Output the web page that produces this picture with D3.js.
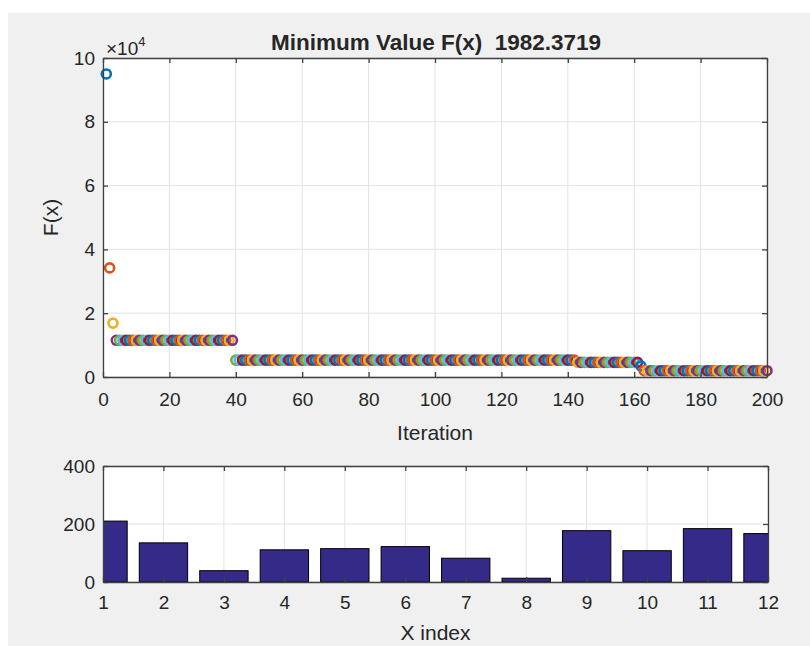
<!DOCTYPE html>
<html>
<head>
<meta charset="utf-8">
<script src="https://cdn.jsdelivr.net/npm/d3@7"></script>
<style>
  body { margin: 0; background: #fff; }
  svg text { font-family: "Liberation Sans", Arial, sans-serif; fill: #262626; }
</style>
</head>
<body>
<div id="chart"></div>
<script>
// best F(x) at each iteration
const fxValues = [
  95000, 34200, 16900, 11500, 11500, 11500, 11500, 11500, 11500, 11500,
  11500, 11500, 11500, 11500, 11500, 11500, 11500, 11500, 11500, 11500,
  11500, 11500, 11500, 11500, 11500, 11500, 11500, 11500, 11500, 11500,
  11500, 11500, 11500, 11500, 11500, 11500, 11500, 11500, 11500, 5300,
  5300, 5300, 5300, 5300, 5300, 5300, 5300, 5300, 5300, 5300,
  5300, 5300, 5300, 5300, 5300, 5300, 5300, 5300, 5300, 5300,
  5300, 5300, 5300, 5300, 5300, 5300, 5300, 5300, 5300, 5300,
  5300, 5300, 5300, 5300, 5300, 5300, 5300, 5300, 5300, 5300,
  5300, 5300, 5300, 5300, 5300, 5300, 5300, 5300, 5300, 5300,
  5300, 5300, 5300, 5300, 5300, 5300, 5300, 5300, 5300, 5300,
  5300, 5300, 5300, 5300, 5300, 5300, 5300, 5300, 5300, 5300,
  5300, 5300, 5300, 5300, 5300, 5300, 5300, 5300, 5300, 5300,
  5300, 5300, 5300, 5300, 5300, 5300, 5300, 5300, 5300, 5300,
  5300, 5300, 5300, 5300, 5300, 5300, 5300, 5300, 5300, 5300,
  5300, 5300, 4600, 4600, 4600, 4600, 4600, 4600, 4600, 4600,
  4600, 4600, 4600, 4600, 4600, 4600, 4600, 4600, 4600, 4600,
  4600, 3500, 1982.3719, 1982.3719, 1982.3719, 1982.3719, 1982.3719, 1982.3719, 1982.3719, 1982.3719,
  1982.3719, 1982.3719, 1982.3719, 1982.3719, 1982.3719, 1982.3719, 1982.3719, 1982.3719, 1982.3719, 1982.3719,
  1982.3719, 1982.3719, 1982.3719, 1982.3719, 1982.3719, 1982.3719, 1982.3719, 1982.3719, 1982.3719, 1982.3719,
  1982.3719, 1982.3719, 1982.3719, 1982.3719, 1982.3719, 1982.3719, 1982.3719, 1982.3719, 1982.3719, 1982.3719
];
const bestValue = "1982.3719";

// x vector of the best solution
const xIndex = [1, 2, 3, 4, 5, 6, 7, 8, 9, 10, 11, 12];
const xValues = [210, 135, 39, 111, 115, 122, 82, 13, 177, 108, 184, 167];

// tick labels
const iterTicks = [0, 20, 40, 60, 80, 100, 120, 140, 160, 180, 200];
const fxTicks = [0, 2, 4, 6, 8, 10];   // x 10^4
const barYTicks = [0, 200, 400];

// MATLAB default line color order
const colorOrder = ["#0072BD", "#D95319", "#EDB120", "#7E2F8E", "#77AC30", "#4DBEEE", "#A2142F"];

const W = 810, H = 646;
const svg = d3.select("#chart").append("svg")
  .attr("width", W).attr("height", H);

// figure background
svg.append("rect")
  .attr("x", 8).attr("y", 13)
  .attr("width", W - 8).attr("height", H - 13)
  .attr("fill", "#f0f0f0");

const axisColor = "#404040";
const gridColor = "#e3e3e3";
const tickFont = "19px";
const labelFont = "21px";

// ---------- top plot ----------
const box1 = { left: 103, right: 767, top: 58, bottom: 377 };
const x1 = d3.scaleLinear().domain([0, 200]).range([box1.left, box1.right]);
const y1 = d3.scaleLinear().domain([0, 100000]).range([box1.bottom, box1.top]);

const g1 = svg.append("g");
g1.append("rect")
  .attr("x", box1.left).attr("y", box1.top)
  .attr("width", box1.right - box1.left).attr("height", box1.bottom - box1.top)
  .attr("fill", "#fff");

// grid
g1.selectAll(".vgrid").data(iterTicks).enter().append("line")
  .attr("x1", d => x1(d)).attr("x2", d => x1(d))
  .attr("y1", box1.top).attr("y2", box1.bottom)
  .attr("stroke", gridColor);
g1.selectAll(".hgrid").data(fxTicks).enter().append("line")
  .attr("y1", d => y1(d * 1e4)).attr("y2", d => y1(d * 1e4))
  .attr("x1", box1.left).attr("x2", box1.right)
  .attr("stroke", gridColor);

// markers
g1.selectAll("circle").data(fxValues).enter().append("circle")
  .attr("cx", (d, i) => x1(i + 1))
  .attr("cy", d => y1(d))
  .attr("r", 4.5)
  .attr("fill", "none")
  .attr("stroke", (d, i) => colorOrder[i % colorOrder.length])
  .attr("stroke-width", 2.6);

// axes (box style, ticks inward)
const ax1b = g1.append("g").attr("transform", `translate(0,${box1.bottom})`)
  .call(d3.axisBottom(x1).tickValues(iterTicks).tickSizeInner(-5).tickSizeOuter(0).tickPadding(16));
const ax1t = g1.append("g").attr("transform", `translate(0,${box1.top})`)
  .call(d3.axisTop(x1).tickValues(iterTicks).tickSizeInner(-5).tickSizeOuter(0).tickFormat(""));
const ax1l = g1.append("g").attr("transform", `translate(${box1.left},0)`)
  .call(d3.axisLeft(y1).tickValues(fxTicks.map(d => d * 1e4)).tickFormat(d => d / 1e4)
    .tickSizeInner(-5).tickSizeOuter(0).tickPadding(8));
const ax1r = g1.append("g").attr("transform", `translate(${box1.right},0)`)
  .call(d3.axisRight(y1).tickValues(fxTicks.map(d => d * 1e4)).tickSizeInner(-5).tickSizeOuter(0).tickFormat(""));

// ---------- bottom plot ----------
const box2 = { left: 103, right: 768, top: 466, bottom: 582 };
const x2 = d3.scaleLinear().domain([1, 12]).range([box2.left, box2.right]);
const y2 = d3.scaleLinear().domain([0, 400]).range([box2.bottom, box2.top]);

svg.append("clipPath").attr("id", "clipBot").append("rect")
  .attr("x", box2.left).attr("y", box2.top)
  .attr("width", box2.right - box2.left).attr("height", box2.bottom - box2.top);

const g2 = svg.append("g");
g2.append("rect")
  .attr("x", box2.left).attr("y", box2.top)
  .attr("width", box2.right - box2.left).attr("height", box2.bottom - box2.top)
  .attr("fill", "#fff");

g2.selectAll(".vgrid").data(xIndex).enter().append("line")
  .attr("x1", d => x2(d)).attr("x2", d => x2(d))
  .attr("y1", box2.top).attr("y2", box2.bottom)
  .attr("stroke", gridColor);
g2.selectAll(".hgrid").data(barYTicks).enter().append("line")
  .attr("y1", d => y2(d)).attr("y2", d => y2(d))
  .attr("x1", box2.left).attr("x2", box2.right)
  .attr("stroke", gridColor);

const barW = 0.8;
g2.append("g").attr("clip-path", "url(#clipBot)")
  .selectAll("rect").data(xValues).enter().append("rect")
  .attr("x", (d, i) => x2(xIndex[i] - barW / 2))
  .attr("width", x2(1 + barW) - x2(1))
  .attr("y", d => y2(d))
  .attr("height", d => y2(0) - y2(d))
  .attr("fill", "#352A87")
  .attr("stroke", "#000")
  .attr("stroke-width", 1);

const ax2b = g2.append("g").attr("transform", `translate(0,${box2.bottom})`)
  .call(d3.axisBottom(x2).tickValues(xIndex).tickFormat(d3.format("d"))
    .tickSizeInner(-5).tickSizeOuter(0).tickPadding(14));
const ax2t = g2.append("g").attr("transform", `translate(0,${box2.top})`)
  .call(d3.axisTop(x2).tickValues(xIndex).tickSizeInner(-5).tickSizeOuter(0).tickFormat(""));
const ax2l = g2.append("g").attr("transform", `translate(${box2.left},0)`)
  .call(d3.axisLeft(y2).tickValues(barYTicks).tickSizeInner(-5).tickSizeOuter(0).tickPadding(8));
const ax2r = g2.append("g").attr("transform", `translate(${box2.right},0)`)
  .call(d3.axisRight(y2).tickValues(barYTicks).tickSizeInner(-5).tickSizeOuter(0).tickFormat(""));

// style all axes like MATLAB
[ax1b, ax1t, ax1l, ax1r, ax2b, ax2t, ax2l, ax2r].forEach(a => {
  a.select(".domain").attr("stroke", axisColor).attr("stroke-width", 1.3);
  a.selectAll(".tick line").attr("stroke", axisColor).attr("stroke-width", 1.3);
  a.selectAll(".tick text").style("font-size", tickFont).attr("fill", "#262626");
});

// ---------- texts ----------
svg.append("text")
  .attr("x", 436).attr("y", 50)
  .attr("text-anchor", "middle")
  .style("font-size", "22.5px").style("font-weight", "bold")
  .style("white-space", "pre")
  .attr("fill", "#000")
  .text(`Minimum Value F(x)  ${bestValue}`);

const expo = svg.append("text")
  .attr("x", 106).attr("y", 55)
  .style("font-size", tickFont);
expo.append("tspan").text("\u00d710");
expo.append("tspan").attr("dy", -9).style("font-size", "13px").text("4");

svg.append("text")
  .attr("transform", `translate(58,${(box1.top + box1.bottom) / 2}) rotate(-90)`)
  .attr("text-anchor", "middle")
  .style("font-size", labelFont)
  .text("F(x)");

svg.append("text")
  .attr("x", (box1.left + box1.right) / 2).attr("y", 440)
  .attr("text-anchor", "middle")
  .style("font-size", labelFont)
  .text("Iteration");

svg.append("text")
  .attr("x", (box2.left + box2.right) / 2).attr("y", 640)
  .attr("text-anchor", "middle")
  .style("font-size", labelFont)
  .text("X index");
</script>
</body>
</html>
